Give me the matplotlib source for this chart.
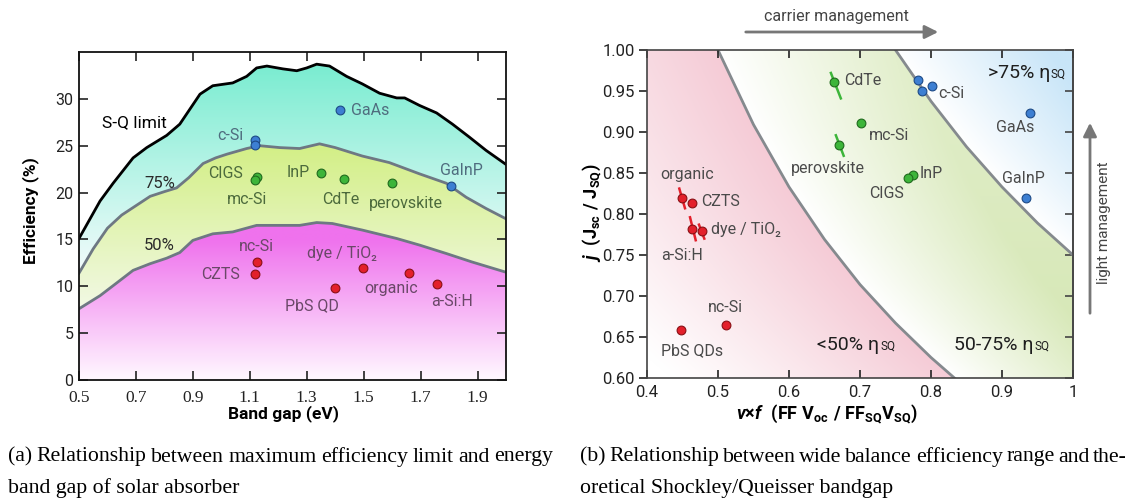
import numpy as np
import matplotlib
matplotlib.use("Agg")
import matplotlib.pyplot as plt
import matplotlib.colors as mcolors
from matplotlib.path import Path

plt.rcParams['font.family'] = ['Roboto', 'DejaVu Sans']
plt.rcParams['mathtext.fontset'] = 'custom'
plt.rcParams['mathtext.rm'] = 'Roboto:bold'
plt.rcParams['mathtext.it'] = 'Roboto:italic:bold'
plt.rcParams['mathtext.bf'] = 'Roboto:bold'

W, H = 1129, 500

# ---------------- panel (a): efficiency vs band gap ----------------
sq_gap = [0.50, 0.574, 0.62, 0.69, 0.738, 0.808, 0.854, 0.925, 0.97, 1.04, 1.089, 1.124,
          1.16, 1.216, 1.265, 1.30, 1.335, 1.38, 1.44, 1.495, 1.556, 1.616, 1.644, 1.696,
          1.756, 1.812, 1.872, 1.93, 2.0]
sq_eff = [15.1, 19.1, 21.0, 23.7, 24.8, 26.1, 27.3, 30.5, 31.4, 31.7, 32.4, 33.3,
          33.5, 33.2, 33.0, 33.3, 33.7, 33.5, 32.4, 31.6, 30.6, 30.1, 30.1, 29.3,
          28.5, 27.3, 25.9, 24.5, 23.0]
p75_gap = [0.50, 0.55, 0.60, 0.65, 0.69, 0.75, 0.80, 0.843, 0.886, 0.936, 0.98, 1.02, 1.089,
           1.135, 1.205, 1.275, 1.345, 1.40, 1.495, 1.59, 1.696, 1.79, 1.86, 1.93, 2.0]
p75_eff = [11.4, 14.0, 16.2, 17.6, 18.4, 19.6, 20.1, 20.5, 21.6, 23.1, 23.7, 24.1, 24.7,
           25.0, 24.8, 24.7, 25.2, 24.8, 23.9, 23.2, 22.0, 21.0, 19.5, 18.3, 17.2]
p50_gap = [0.50, 0.574, 0.63, 0.69, 0.749, 0.808, 0.854, 0.90, 0.97, 1.04, 1.124, 1.216,
           1.275, 1.335, 1.39, 1.495, 1.616, 1.696, 1.79, 1.88, 2.0]
p50_eff = [7.6, 9.0, 10.3, 11.7, 12.4, 13.0, 13.6, 14.9, 15.6, 15.8, 16.5, 16.5,
           16.5, 16.8, 16.7, 16.0, 15.1, 14.4, 13.5, 12.6, 11.5]

a_blue_gap = [1.1175, 1.1175, 1.418, 1.808]     # c-Si, c-Si, GaAs, GaInP
a_blue_eff = [25.6, 25.07, 28.8, 20.7]
a_green_gap = [1.127, 1.1175, 1.349, 1.431, 1.60]   # CIGS, mc-Si, InP, CdTe, perovskite
a_green_eff = [21.7, 21.3, 22.1, 21.45, 21.0]
a_red_gap = [1.127, 1.1175, 1.499, 1.40, 1.659, 1.758]  # nc-Si, CZTS, dye, PbS, organic, a-Si:H
a_red_eff = [12.6, 11.35, 11.9, 9.8, 11.4, 10.2]

# ---------------- panel (b): j vs v*f ----------------
b50_x = [0.50, 0.55, 0.60, 0.65, 0.70, 0.75, 0.80, 0.833]
b50_y = [1.00, 0.909, 0.833, 0.769, 0.714, 0.667, 0.625, 0.60]
b75_x = [0.75, 0.80, 0.85, 0.90, 0.95, 1.00]
b75_y = [1.00, 0.9375, 0.882, 0.833, 0.789, 0.75]

b_green_x = [0.664, 0.701, 0.671, 0.774, 0.767]   # CdTe, mc-Si, perovskite, InP, CIGS
b_green_y = [0.961, 0.911, 0.884, 0.848, 0.844]
b_green_err = [(0.659, 0.673, 0.972, 0.941), (0.666, 0.677, 0.896, 0.871)]
b_red_x = [0.449, 0.463, 0.464, 0.477, 0.448, 0.511]  # organic, CZTS, a-Si:H, dye, PbS QDs, nc-Si
b_red_y = [0.819, 0.814, 0.782, 0.779, 0.658, 0.665]
b_red_err = [(0.4455, 0.4535, 0.831, 0.807), (0.4606, 0.4686, 0.796, 0.768),
             (0.4732, 0.4807, 0.787, 0.770)]
b_blue_x = [0.782, 0.787, 0.801, 0.940, 0.934]   # c-Si x3, GaAs, GaInP
b_blue_y = [0.963, 0.950, 0.9565, 0.923, 0.820]

BLUE, BLUE_E = '#3d7fd2', '#1d4a86'
GREEN, GREEN_E = '#3db53a', '#1f6a1d'
RED, RED_E = '#e3202b', '#8a0f14'


def closed(verts):
    v = np.asarray(verts, float)
    return Path(np.vstack([v, v[:1]]), closed=True)


def vgrad(ax, path, c_lo, c_hi, y_lo, y_hi, extent):
    ys = np.linspace(extent[2], extent[3], 400)
    t = np.clip((ys - y_lo) / (y_hi - y_lo), 0, 1)[:, None]
    lo = np.array(mcolors.to_rgb(c_lo))
    hi = np.array(mcolors.to_rgb(c_hi))
    img = (lo + (hi - lo) * t)[:, None, :]
    im = ax.imshow(img, extent=extent, origin='lower', aspect='auto',
                   interpolation='bilinear', zorder=0)
    im.set_clip_path(path, transform=ax.transData)


def justify(fig, line, x0, x1, y, **kw):
    words = line.split()
    r = fig.canvas.get_renderer()
    ts = [fig.text(0, y, w, va='center', **kw) for w in words]
    widths = [t.get_window_extent(r).width for t in ts]
    gap = ((x1 - x0) - sum(widths)) / (len(words) - 1)
    pos = x0
    for t, w in zip(ts, widths):
        t.set_x(pos / W)
        pos += w + gap


fig = plt.figure(figsize=(W / 100, H / 100), dpi=100)

# ======== left panel ========
ax = fig.add_axes([79 / W, 120 / H, 427 / W, 328 / H])
ext = [0.5, 2.0, 0, 35]
top_reg = closed(list(zip(sq_gap, sq_eff)) + list(zip(p75_gap[::-1], p75_eff[::-1])))
mid_reg = closed(list(zip(p75_gap, p75_eff)) + list(zip(p50_gap[::-1], p50_eff[::-1])))
low_reg = closed(list(zip(p50_gap, p50_eff)) + [(2.0, 0), (0.5, 0)])
vgrad(ax, top_reg, '#f0fbfb', '#78ecd0', 12, 34, ext)
vgrad(ax, mid_reg, '#f3f9e8', '#d3ef86', 7, 25, ext)
vgrad(ax, low_reg, '#fff8ff', '#ef72ed', 0, 15, ext)

ax.plot(sq_gap, sq_eff, color='black', lw=2, zorder=2)
ax.plot(p75_gap, p75_eff, color='#6e7883', lw=2, zorder=2)
ax.plot(p50_gap, p50_eff, color='#6e7883', lw=2, zorder=2)

ax.scatter(a_blue_gap, a_blue_eff, s=40, c=BLUE, edgecolors=BLUE_E, linewidths=0.8, zorder=3)
ax.scatter(a_green_gap, a_green_eff, s=40, c=GREEN, edgecolors=GREEN_E, linewidths=0.8, zorder=3)
ax.scatter(a_red_gap, a_red_eff, s=40, c=RED, edgecolors=RED_E, linewidths=0.8, zorder=3)

cb, cg, cr = '#4f6c7e', '#4c6a3c', '#6a4868'
fs = 11.5
ax.text(0.582, 27.5, 'S-Q limit', fontsize=12.5, color='black', va='center')
ax.text(0.785, 21.0, '75%', fontsize=12, color='#2a2a2a', ha='center', va='center')
ax.text(0.783, 14.4, '50%', fontsize=12, color='#2a2a2a', ha='center', va='center')
ax.text(1.032, 26.1, 'c-Si', fontsize=fs, color=cb, ha='center', va='center')
ax.text(1.454, 28.8, 'GaAs', fontsize=fs, color=cb, va='center')
ax.text(1.843, 22.4, 'GaInP', fontsize=fs, color=cb, ha='center', va='center')
ax.text(1.015, 22.05, 'CIGS', fontsize=fs, color=cg, ha='center', va='center')
ax.text(1.092, 19.3, 'mc-Si', fontsize=fs, color=cg, ha='center', va='center')
ax.text(1.27, 22.1, 'InP', fontsize=fs, color=cg, ha='center', va='center')
ax.text(1.419, 19.3, 'CdTe', fontsize=fs, color=cg, ha='center', va='center')
ax.text(1.647, 18.8, 'perovskite', fontsize=fs, color=cg, ha='center', va='center')
ax.text(1.123, 14.25, 'nc-Si', fontsize=fs, color=cr, ha='center', va='center')
ax.text(0.998, 11.3, 'CZTS', fontsize=fs, color=cr, ha='center', va='center')
ax.text(1.425, 13.5, 'dye / TiO₂', fontsize=fs, color=cr, ha='center', va='center')
ax.text(1.319, 7.9, 'PbS QD', fontsize=fs, color=cr, ha='center', va='center')
ax.text(1.597, 9.8, 'organic', fontsize=fs, color=cr, ha='center', va='center')
ax.text(1.811, 8.4, 'a-Si:H', fontsize=fs, color=cr, ha='center', va='center')

ax.set_xlim(0.5, 2.0)
ax.set_ylim(0, 35)
ax.set_xticks([0.5, 0.7, 0.9, 1.1, 1.3, 1.5, 1.7, 1.9])
ax.set_yticks([0, 5, 10, 15, 20, 25, 30])
ax.tick_params(direction='in', top=True, right=True, length=6.5, width=1.2,
               labelsize=11.5, colors='#222222', pad=4)
ax.tick_params(axis='x', pad=7)
ax.set_xticklabels(['0.5', '0.7', '0.9', '1.1', '1.3', '1.5', '1.7', '1.9'],
                   fontfamily='Liberation Serif', fontsize=12.5)
for sp in ax.spines.values():
    sp.set_linewidth(1.3)
    sp.set_color('#111111')

fig.text(31 / W, 1 - 211 / H, 'Efficiency (%)', rotation=90, fontsize=12.5,
         fontweight='bold', ha='center', va='center')
fig.text(284 / W, 1 - 414 / H, 'Band gap (eV)', fontsize=12.5, fontweight='bold',
         ha='center', va='center')

# ======== right panel ========
bx = fig.add_axes([647 / W, 122 / H, 426 / W, 328 / H])
xs = np.linspace(0.4, 1.0, 480)
ys = np.linspace(0.6, 1.0, 320)
X, Y = np.meshgrid(xs, ys)
x50 = np.interp(Y, b50_y[::-1], b50_x[::-1])
x75 = np.interp(Y, b75_y[::-1], b75_x[::-1])
pink = np.array(mcolors.to_rgb('#f5cbd6'))
green = np.array(mcolors.to_rgb('#d5e7b4'))
blue = np.array(mcolors.to_rgb('#c8e5f8'))
img = np.ones(X.shape + (3,))
m_p = X < x50
m_b = X >= x75
m_g = ~m_p & ~m_b
tp = np.clip(1 - (x50 - X) / 0.4, 0, 1) ** 1.1
tg = np.clip((X - x50) / 0.26, 0, 1) * (1 - 0.3 * (Y - 0.6) / 0.4)
tb = np.clip((X - x75) / 0.22, 0, 1)
for m, t, c in [(m_p, tp, pink), (m_g, tg, green), (m_b, tb, blue)]:
    img[m] = 1 + (c - 1) * t[m][:, None]
bx.imshow(img, extent=[0.4, 1.0, 0.6, 1.0], origin='lower', aspect='auto',
          interpolation='bilinear', zorder=0)

bx.plot(b50_x, b50_y, color='#858a8e', lw=2, zorder=1)
bx.plot(b75_x, b75_y, color='#858a8e', lw=2, zorder=1)

for (x0, x1, y0, y1) in b_green_err:
    bx.plot([x0, x1], [y0, y1], color=GREEN, lw=1.8, zorder=2)
for (x0, x1, y0, y1) in b_red_err:
    bx.plot([x0, x1], [y0, y1], color=RED, lw=1.8, zorder=2)
bx.scatter(b_green_x, b_green_y, s=40, c=GREEN, edgecolors=GREEN_E, linewidths=0.8, zorder=3)
bx.scatter(b_red_x, b_red_y, s=40, c=RED, edgecolors=RED_E, linewidths=0.8, zorder=3)
bx.scatter(b_blue_x, b_blue_y, s=40, c=BLUE, edgecolors=BLUE_E, linewidths=0.8, zorder=3)

lc = '#4a4a4a'
fs = 11.5
bx.text(0.677, 0.963, 'CdTe', fontsize=fs, color=lc, va='center')
bx.text(0.810, 0.947, 'c-Si', fontsize=fs, color=lc, va='center')
bx.text(0.918, 0.905, 'GaAs', fontsize=fs, color=lc, ha='center', va='center')
bx.text(0.7127, 0.8955, 'mc-Si', fontsize=fs, color=lc, va='center')
bx.text(0.655, 0.8557, 'perovskite', fontsize=fs, color=lc, ha='center', va='center')
bx.text(0.7845, 0.8496, 'InP', fontsize=fs, color=lc, va='center')
bx.text(0.738, 0.8252, 'CIGS', fontsize=fs, color=lc, ha='center', va='center')
bx.text(0.930, 0.8435, 'GaInP', fontsize=fs, color=lc, ha='center', va='center')
bx.text(0.4192, 0.8484, 'organic', fontsize=fs, color=lc, va='center')
bx.text(0.476, 0.815, 'CZTS', fontsize=fs, color=lc, va='center')
bx.text(0.4897, 0.7805, 'dye / TiO₂', fontsize=fs, color=lc, va='center')
bx.text(0.4192, 0.750, 'a-Si:H', fontsize=fs, color=lc, va='center')
bx.text(0.510, 0.6862, 'nc-Si', fontsize=fs, color=lc, ha='center', va='center')
bx.text(0.4192, 0.633, 'PbS QDs', fontsize=fs, color=lc, va='center')

for (x, y, s) in [(0.880, 0.972, '>75% η'), (0.640, 0.640, '<50% η'), (0.833, 0.640, '50-75% η')]:
    t = bx.text(x, y, s, fontsize=14, color='#1e1e1e', va='center')
    bx.annotate('SQ', xy=(1, 0), xycoords=t, xytext=(0.5, 1), textcoords='offset points',
                fontsize=8.5, color='#1e1e1e', va='bottom')

bx.set_xlim(0.4, 1.0)
bx.set_ylim(0.6, 1.0)
bx.set_xticks([0.4, 0.5, 0.6, 0.7, 0.8, 0.9, 1.0])
bx.set_xticklabels(['0.4', '0.5', '0.6', '0.7', '0.8', '0.9', '1'])
bx.set_yticks(np.arange(0.60, 1.001, 0.05))
bx.set_yticklabels(['%.2f' % v for v in np.arange(0.60, 1.001, 0.05)])
bx.tick_params(axis='x', direction='in', top=True, length=6, width=1.2,
               labelsize=12, colors='#222222', pad=5)
bx.tick_params(axis='y', direction='out', right=False, length=6, width=1.2,
               labelsize=12, colors='#222222', pad=3)
sec = bx.secondary_yaxis('right')
sec.set_yticks(np.arange(0.60, 1.001, 0.05))
sec.tick_params(direction='in', length=6, width=1.2, labelright=False, color='#444444')
sec.spines['right'].set_color('#444444')
sec.spines['right'].set_linewidth(1.2)
for sp in bx.spines.values():
    sp.set_linewidth(1.2)
    sp.set_color('#444444')

fig.text(592 / W, 1 - 213 / H, r'$\mathit{j}\ \ \mathrm{(J_{sc}\ /\ J_{SQ})}$',
         rotation=90, fontsize=13, ha='center', va='center')
fig.text(827 / W, 1 - 414 / H,
         r'$\mathit{v}{\times}\mathit{f}\ \ \mathrm{(FF\ V_{oc}\ /\ FF_{SQ}V_{SQ})}$',
         fontsize=13, ha='center', va='center')

# management arrows
fig.text(836 / W, 1 - 16 / H, 'carrier management', fontsize=11.5, color='#444444',
         ha='center', va='center')
bx.annotate('', xy=(941 / W, 1 - 32 / H), xytext=(743 / W, 1 - 32 / H),
            xycoords='figure fraction', textcoords='figure fraction', annotation_clip=False,
            arrowprops=dict(arrowstyle='-|>', color='#777777', lw=2, mutation_scale=20))
fig.text(1104 / W, 1 - 223 / H, 'light management', fontsize=11, color='#444444',
         rotation=90, ha='center', va='center')
bx.annotate('', xy=(1090 / W, 1 - 120 / H), xytext=(1090 / W, 1 - 316 / H),
            xycoords='figure fraction', textcoords='figure fraction', annotation_clip=False,
            arrowprops=dict(arrowstyle='-|>', color='#777777', lw=2, mutation_scale=20))

# captions
cap = dict(fontfamily='Liberation Serif', fontsize=15.7, color='black')
justify(fig, '(a) Relationship between maximum efficiency limit and energy', 8, 553, 1 - 457 / H, **cap)
fig.text(8 / W, 1 - 488 / H, 'band gap of solar absorber', va='center', **cap)
justify(fig, '(b) Relationship between wide balance efficiency range and the-', 580, 1127, 1 - 457 / H, **cap)
fig.text(580 / W, 1 - 488 / H, 'oretical Shockley/Queisser bandgap', va='center', **cap)

fig.savefig('out.png', dpi=100)
